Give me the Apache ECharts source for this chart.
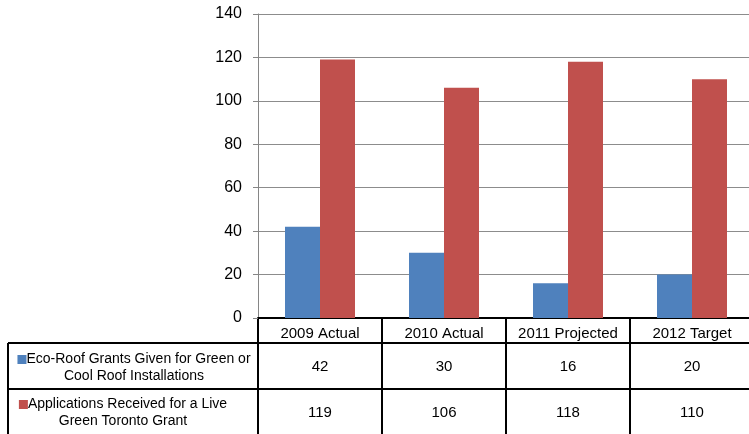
<!DOCTYPE html>
<html>
<head>
<meta charset="utf-8">
<script src="https://cdn.jsdelivr.net/npm/echarts@6/dist/echarts.min.js"></script>
<style>
  html, body { margin: 0; padding: 0; background: #fff; }
  #chart { width: 749px; height: 434px; }
</style>
</head>
<body>
<div id="chart"></div>
<script>
var categories = ['2009 Actual', '2010 Actual', '2011 Projected', '2012 Target'];
var seriesNames = ['Eco-Roof Grants Given for Green or\nCool Roof Installations',
                   'Applications Received for a Live\nGreen Toronto Grant'];
var ecoRoofGrants = [42, 30, 16, 20];
var applicationsReceived = [119, 106, 118, 110];
var yTicks = [0, 20, 40, 60, 80, 100, 120, 140];
var colors = ['#4F81BD', '#C0504D'];

var FONT = 'Liberation Sans, Arial, sans-serif';
var chart = echarts.init(document.getElementById('chart'), null, { renderer: 'canvas' });

var option = {
  animation: false,
  backgroundColor: '#fff',
  grid: { left: 258, top: 14, width: 496, height: 304, containLabel: false, outerBoundsMode: 'none' },
  xAxis: {
    type: 'category',
    data: categories,
    axisLine: { show: true, lineStyle: { color: '#000', width: 2 } },
    axisTick: { show: false },
    axisLabel: { color: '#000', fontSize: 15, fontFamily: FONT, margin: 8, interval: 0, hideOverlap: false },
    splitLine: { show: false }
  },
  yAxis: {
    type: 'value',
    min: yTicks[0],
    max: yTicks[yTicks.length - 1],
    interval: yTicks[1] - yTicks[0],
    axisLine: { show: true, lineStyle: { color: '#868686', width: 1 } },
    axisTick: { show: true, inside: false, length: 5, lineStyle: { color: '#868686' } },
    axisLabel: { color: '#000', fontSize: 16, fontFamily: FONT, margin: 16 },
    splitLine: { show: true, lineStyle: { color: '#8c8c8c', width: 1 } }
  },
  series: [
    { name: seriesNames[0], type: 'bar', data: ecoRoofGrants, barWidth: 35, barGap: '0%',
      itemStyle: { color: colors[0] } },
    { name: seriesNames[1], type: 'bar', data: applicationsReceived, barWidth: 35, barGap: '0%',
      itemStyle: { color: colors[1] } }
  ]
};
chart.setOption(option);

// Data table below the axis, positioned from the axis' own scale
function buildTable() {
  var c0 = chart.convertToPixel({ xAxisIndex: 0 }, 0);
  var c1 = chart.convertToPixel({ xAxisIndex: 0 }, 1);
  var band = c1 - c0;
  var left0 = c0 - band / 2;
  var yAxisTop = 318, row1Top = 343, row2Top = 389, bottom = 440, tableLeft = 8;
  var rows = [
    { top: row1Top, mid: 368, valMid: 367, values: ecoRoofGrants, name: seriesNames[0], color: colors[0], labelX: 134 },
    { top: row2Top, mid: 413, valMid: 413, values: applicationsReceived, name: seriesNames[1], color: colors[1], labelX: 123 }
  ];
  var els = [];
  var ls = { stroke: '#000', lineWidth: 2 };
  var right = left0 + band * categories.length;
  els.push({ type: 'line', shape: { x1: tableLeft, y1: row1Top, x2: right, y2: row1Top }, style: ls, silent: true });
  els.push({ type: 'line', shape: { x1: tableLeft, y1: row2Top, x2: right, y2: row2Top }, style: ls, silent: true });
  els.push({ type: 'line', shape: { x1: tableLeft, y1: row1Top, x2: tableLeft, y2: bottom }, style: ls, silent: true });
  for (var i = 0; i <= categories.length; i++) {
    var x = left0 + band * i;
    els.push({ type: 'line', shape: { x1: x, y1: yAxisTop, x2: x, y2: bottom }, style: ls, silent: true });
  }
  rows.forEach(function (r) {
    r.values.forEach(function (v, j) {
      var cx = chart.convertToPixel({ xAxisIndex: 0 }, j);
      els.push({ type: 'text', x: cx, y: r.valMid, silent: true,
        style: { text: String(v), fill: '#000', font: '15px ' + FONT, align: 'center', verticalAlign: 'middle' } });
    });
    var lines = r.name.split('\n');
    els.push({ type: 'text', x: r.labelX, y: r.mid, silent: true,
      style: {
        text: '{m|}' + lines[0] + '\n' + lines[1],
        fill: '#000', font: '14px ' + FONT, align: 'center', verticalAlign: 'middle', lineHeight: 17,
        rich: { m: { width: 9, height: 9, backgroundColor: r.color } }
      } });
  });
  chart.setOption({ graphic: { elements: els } });
}
buildTable();
</script>
</body>
</html>
